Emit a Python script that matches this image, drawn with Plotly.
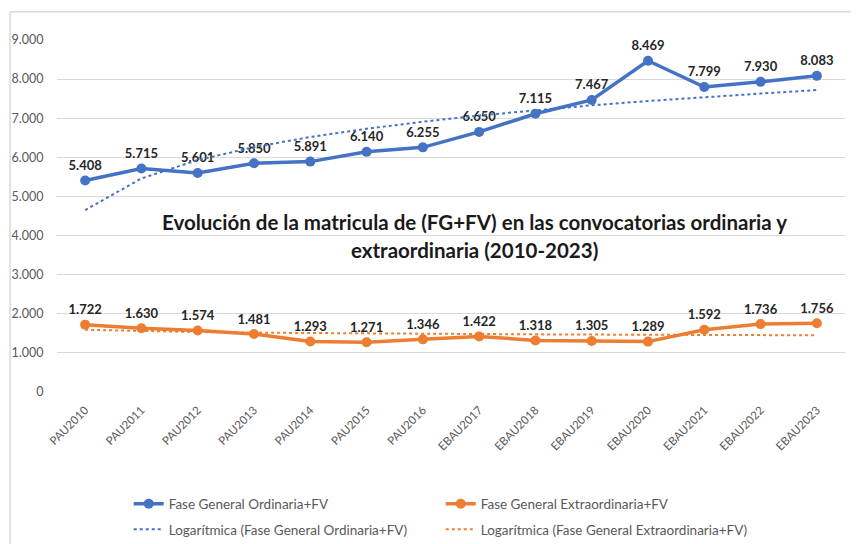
import plotly.graph_objects as go

categories = [
    "PAU2010", "PAU2011", "PAU2012", "PAU2013", "PAU2014", "PAU2015", "PAU2016",
    "EBAU2017", "EBAU2018", "EBAU2019", "EBAU2020", "EBAU2021", "EBAU2022", "EBAU2023",
]
ordinaria = [5408, 5715, 5601, 5850, 5891, 6140, 6255, 6650, 7115, 7467, 8469, 7799, 7930, 8083]
extraordinaria = [1722, 1630, 1574, 1481, 1293, 1271, 1346, 1422, 1318, 1305, 1289, 1592, 1736, 1756]
# trend lines
trend_ordinaria = [4650, 5460, 5930, 6260, 6520, 6730, 6910, 7070, 7200, 7330, 7440, 7540, 7630, 7720]
trend_extraordinaria = [1590, 1555, 1533, 1517, 1505, 1495, 1487, 1480, 1474, 1468, 1463, 1458, 1454, 1450]

BLUE = "#4472C4"
ORANGE = "#ED7D31"
FONT = "Lato, Carlito, Liberation Sans, sans-serif"


def fmt(v):
    return f"{v:,}".replace(",", ".")


fig = go.Figure()

for name, vals, color, legend in (
    ("Fase General Ordinaria+FV", ordinaria, BLUE, "legend"),
    ("Fase General Extraordinaria+FV", extraordinaria, ORANGE, "legend2"),
):
    fig.add_trace(
        go.Scatter(
            x=categories,
            y=vals,
            mode="lines+markers+text",
            name=name,
            legendgroup=name,
            line=dict(color=color, width=3.5),
            marker=dict(color=color, size=10),
            text=[fmt(v) for v in vals],
            textposition="top center",
            textfont=dict(family=FONT, size=13, color="#262626", weight="bold"),
            legend=legend,
            cliponaxis=False,
        )
    )

for name, vals, color, legend in (
    ("Logarítmica (Fase General Ordinaria+FV)", trend_ordinaria, BLUE, "legend"),
    ("Logarítmica (Fase General Extraordinaria+FV)", trend_extraordinaria, ORANGE, "legend2"),
):
    fig.add_trace(
        go.Scatter(
            x=categories,
            y=vals,
            mode="lines",
            name=name,
            legendgroup=name,
            line=dict(color=color, width=2, dash="dot"),
            legend=legend,
        )
    )

legend_style = dict(
    orientation="v",
    yanchor="top",
    y=-0.274,
    xanchor="left",
    bgcolor="rgba(0,0,0,0)",
    font=dict(family=FONT, size=13.5, color="#595959"),
    tracegroupgap=5,
)

title_font = dict(family=FONT, size=20.5, color="#1a1a1a", weight="bold")

# page body keeps an 8px margin: figure is 8px narrower, and taller than the
# window so the legend never pushes the bottom margin
fig.update_layout(
    width=851,
    height=560,
    paper_bgcolor="white",
    plot_bgcolor="white",
    margin=dict(l=49, r=14, t=32, b=176),
    separators=",.",
    font=dict(family=FONT, color="#595959"),
    legend=dict(x=0.091, **legend_style),
    legend2=dict(x=0.487, **legend_style),
    annotations=[
        dict(
            text="Evolución de la matricula de (FG+FV) en las convocatorias ordinaria y",
            xref="paper", yref="paper", x=0.53, y=0.483,
            showarrow=False, font=title_font,
        ),
        dict(
            text="extraordinaria (2010-2023)",
            xref="paper", yref="paper", x=0.53, y=0.403,
            showarrow=False, font=title_font,
        ),
    ],
    shapes=[
        dict(type="line", xref="paper", yref="paper", x0=-0.0596, x1=-0.0596, y0=1.08, y1=-0.45,
             line=dict(color="#D9D9D9", width=1.5)),
        dict(type="line", xref="paper", yref="paper", x0=-0.0596, x1=1.05, y0=1.08, y1=1.08,
             line=dict(color="#D9D9D9", width=1.5)),
    ],
)

fig.update_xaxes(
    type="category",
    range=[-0.5, 13.5],
    tickangle=-45,
    showgrid=False,
    showline=False,
    zeroline=False,
    automargin=False,
    ticks="outside",
    ticklen=6,
    tickcolor="rgba(0,0,0,0)",
    tickfont=dict(family=FONT, size=11.5, color="#595959"),
)
fig.update_yaxes(
    range=[0, 9000],
    dtick=1000,
    tickformat=",.0f",
    showgrid=True,
    gridcolor="#D9D9D9",
    gridwidth=1,
    zeroline=False,
    showline=False,
    automargin=False,
    ticks="outside",
    ticklen=10,
    tickcolor="rgba(0,0,0,0)",
    tickfont=dict(family=FONT, size=12.5, color="#595959"),
)

fig.write_html("out.html")
